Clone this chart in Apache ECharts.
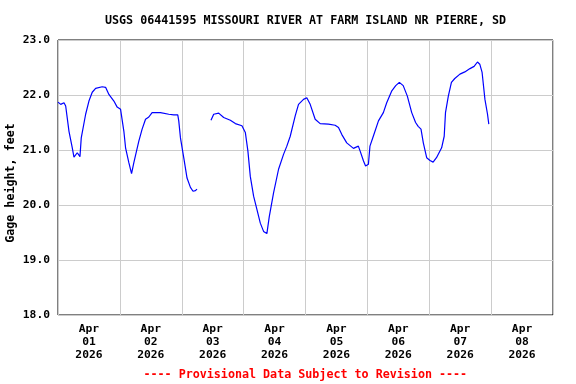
<!DOCTYPE html>
<html><head><meta charset="utf-8">
<script src="https://cdn.jsdelivr.net/npm/echarts@6/dist/echarts.min.js"></script>
<style>html,body{margin:0;padding:0;background:#fff}#c{width:576px;height:384px}</style>
</head><body><div id="c"></div>
<script>
// x values: hours since 2026-03-31 12:00
const titleText = 'USGS 06441595 MISSOURI RIVER AT FARM ISLAND NR PIERRE, SD';
const yTitle = 'Gage height, feet';
const footerText = '---- Provisional Data Subject to Revision ----';
const monthLabel = 'Apr';
const dayLabels = ['01','02','03','04','05','06','07','08'];
const yearLabel = '2026';
const yTicks = [18, 19, 20, 21, 22, 23];

const hoursA = [0,1.05,2.32,2.98,4.26,5.54,6.19,7.47,8.52,9.02,10.72,12.0,13.28,14.59,17.15,18.46,19.74,21.68,22.95,24.27,24.89,25.55,26.21,27.48,28.53,29.42,31.35,32.63,33.95,35.23,36.5,39.75,42.97,44.9,46.45,46.84,47.5,48.77,50.05,51.37,52.37,53.3,53.92];
const gageA  = [21.87,21.83,21.86,21.80,21.34,21.04,20.87,20.95,20.88,21.22,21.65,21.89,22.05,22.12,22.15,22.14,22.01,21.89,21.78,21.74,21.71,21.34,21.04,20.77,20.57,20.77,21.16,21.38,21.56,21.60,21.68,21.68,21.65,21.64,21.64,21.53,21.22,20.86,20.49,20.32,20.25,20.26,20.29];

const hoursB = [59.34,60.39,62.32,64.26,66.85,68.79,71.34,72.66,73.66,74.59,75.87,77.15,78.47,79.74,81.02,81.68,81.95,83.61,85.55,87.48,88.76,90.08,92.01,93.29,95.23,96.5,97.82,99.75,101.69,104.9,107.5,108.8,110.1,112.0,112.65,114.6,116.5,117.2,118.5,119.3,120.4,121.0,122.3,124.3,126.2,127.5,129.4,131.0,132.4,133.9,135.5,137.2,138.7,139.7,140.8,141.7,143.0,144.3,145.5,146.8,148.8,149.8,150.3,151.4,152.6,153.9,155.9,157.8,159.8,161.4,162.7,163.6,164.5,165.6,166.6,167.1];
const gageB  = [21.54,21.65,21.67,21.59,21.54,21.48,21.44,21.32,20.98,20.52,20.16,19.92,19.67,19.52,19.48,19.49,19.79,20.22,20.65,20.92,21.07,21.25,21.62,21.83,21.92,21.95,21.83,21.56,21.48,21.47,21.45,21.41,21.28,21.13,21.10,21.03,21.07,20.98,20.80,20.71,20.74,21.07,21.25,21.53,21.68,21.86,22.07,22.17,22.23,22.17,21.98,21.68,21.50,21.43,21.38,21.13,20.86,20.81,20.78,20.86,21.04,21.25,21.68,21.98,22.23,22.30,22.38,22.42,22.48,22.52,22.60,22.56,22.41,21.92,21.65,21.47];

const font = '"DejaVu Sans Mono", "Liberation Mono", monospace';
const zip = (xs, ys) => xs.map((x, i) => [x, ys[i]]);

const chart = echarts.init(document.getElementById('c'));
chart.setOption({
  animation: false,
  backgroundColor: '#fff',
  grid: { left: 58, right: 23, top: 40, bottom: 69, show: true, borderColor: '#000', borderWidth: 1, backgroundColor: 'transparent' },
  xAxis: [
    { type: 'value', min: 0, max: 192, interval: 24,
      axisLine: { show: false }, axisTick: { show: false }, axisLabel: { show: false },
      splitLine: { show: true, lineStyle: { color: '#cccccc', width: 1 } } },
    { type: 'value', min: 0, max: 192, interval: 12, position: 'bottom',
      axisLine: { show: false }, axisTick: { show: false }, splitLine: { show: false },
      axisLabel: { show: true, margin: 8, color: '#000', fontFamily: font, fontWeight: 'bold', fontSize: 11.3, lineHeight: 13,
        formatter: v => { const k = Math.round(v / 12); if (k % 2 !== 1) return ''; const d = (k - 1) / 2; return dayLabels[d] ? monthLabel + '\n' + dayLabels[d] + '\n' + yearLabel : ''; } } }
  ],
  yAxis: {
    type: 'value', min: yTicks[0], max: yTicks[yTicks.length - 1], interval: 1,
    axisLine: { show: false }, axisTick: { show: false },
    splitLine: { show: true, lineStyle: { color: '#cccccc', width: 1 } },
    axisLabel: { margin: 8, color: '#000', fontFamily: font, fontWeight: 'bold', fontSize: 11.3, formatter: v => v.toFixed(1) }
  },
  graphic: [
    { type: 'text', x: 305.5, y: 20.5, style: { text: titleText, fill: '#000', font: 'bold 11.7px ' + font, align: 'center', verticalAlign: 'middle' } },
    { type: 'text', x: 11, y: 183, rotation: Math.PI / 2, style: { text: yTitle, fill: '#000', font: 'bold 11.7px ' + font, align: 'center', verticalAlign: 'middle' } },
    { type: 'text', x: 305.3, y: 375, style: { text: footerText, fill: '#ff0000', font: 'bold 11.7px ' + font, align: 'center', verticalAlign: 'middle' } }
  ],
  series: [
    { type: 'line', xAxisIndex: 0, data: zip(hoursA, gageA), showSymbol: false, lineStyle: { color: '#0000ff', width: 1.2 } },
    { type: 'line', xAxisIndex: 0, data: zip(hoursB, gageB), showSymbol: false, lineStyle: { color: '#0000ff', width: 1.2 } }
  ]
});
</script></body></html>
